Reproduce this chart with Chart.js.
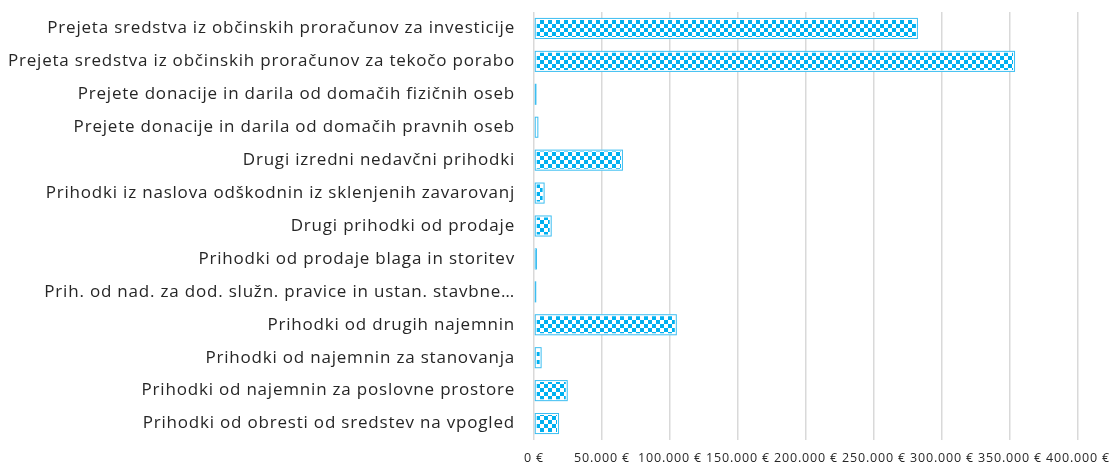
<!DOCTYPE html>
<html>
<head>
<meta charset="utf-8">
<script src="https://cdn.jsdelivr.net/npm/chart.js@4"></script>
<style>
html,body{margin:0;padding:0;background:#fff;}
#wrap{width:1113px;height:465px;position:relative;}
</style>
</head>
<body>
<div id="wrap"><canvas id="c" width="1113" height="465"></canvas></div>
<script>
const categories = [
  "Prejeta sredstva iz občinskih proračunov za investicije",
  "Prejeta sredstva iz občinskih proračunov za tekočo porabo",
  "Prejete donacije in darila od domačih fizičnih oseb",
  "Prejete donacije in darila od domačih pravnih oseb",
  "Drugi izredni nedavčni prihodki",
  "Prihodki iz naslova odškodnin iz sklenjenih zavarovanj",
  "Drugi prihodki od prodaje",
  "Prihodki od prodaje blaga in storitev",
  "Prih. od nad. za dod. služn. pravice in ustan. stavbne…",
  "Prihodki od drugih najemnin",
  "Prihodki od najemnin za stanovanja",
  "Prihodki od najemnin za poslovne prostore",
  "Prihodki od obresti od sredstev na vpogled"
];
const values = [282300, 353700, 1800, 3200, 65400, 7800, 13000, 2200, 1400, 105000, 5600, 24800, 18400];
const axisMin = 0;
const axisMax = 400000;
const axisStep = 50000;

function makePattern(){
  const p = document.createElement('canvas');
  p.width = 8; p.height = 8;
  const g = p.getContext('2d');
  g.fillStyle = '#ffffff'; g.fillRect(0,0,8,8);
  g.fillStyle = '#00B0F0';
  g.fillRect(0,0,4,4); g.fillRect(4,4,4,4);
  return g.createPattern(p,'repeat');
}

const fmt = v => (v===0 ? '0' : v.toString().replace(/\B(?=(\d{3})+(?!\d))/g,'.')) + ' €';

const spacingPlugin = {
  id: 'spacing',
  beforeDraw(chart){ chart.ctx.letterSpacing = '0.8px'; }
};

const outlinePlugin = {
  id: 'outline',
  afterDatasetsDraw(chart){
    const ctx = chart.ctx;
    const meta = chart.getDatasetMeta(0);
    ctx.save();
    ctx.strokeStyle = '#3CBEF1';
    ctx.lineWidth = 1;
    meta.data.forEach(bar => {
      const p = bar.getProps(['x','y','base','height'], true);
      const left = Math.min(p.base, p.x), right = Math.max(p.base, p.x);
      const top = p.y - p.height/2;
      ctx.strokeRect(left + 0.5, top + 0.5, Math.max(right - left - 1, 0.5), p.height - 1);
    });
    ctx.restore();
  }
};

new Chart(document.getElementById('c'), {
  type: 'bar',
  data: {
    labels: categories,
    datasets: [{
      data: values,
      backgroundColor: makePattern(),
      borderColor: '#ffffff',
      borderWidth: 2,
      borderSkipped: false,
      barPercentage: 0.8,
      categoryPercentage: 0.8
    }]
  },
  plugins: [spacingPlugin, outlinePlugin],
  options: {
    indexAxis: 'y',
    responsive: false,
    animation: false,
    layout: { padding: { top: 12, right: 35, bottom: 0, left: 0 } },
    plugins: { legend: { display: false }, tooltip: { enabled: false } },
    scales: {
      x: {
        min: axisMin, max: axisMax,
        grid: { color: '#d9d9d9', lineWidth: 1.5, drawTicks: false },
        border: { display: false },
        ticks: {
          stepSize: axisStep, padding: 11, maxRotation: 0, autoSkip: false,
          color: '#262626', font: { family: 'Open Sans', size: 12.5 },
          callback: v => fmt(v)
        },
        afterFit: s => { s.height = 25; s.paddingLeft = 0; s.paddingRight = 0; }
      },
      y: {
        grid: { display: false, drawTicks: false },
        border: { display: false },
        ticks: {
          padding: 19, autoSkip: false,
          color: '#262626', font: { family: 'Open Sans', size: 17 }
        },
        afterFit: s => { s.width = 534; s.paddingTop = 0; s.paddingBottom = 0; }
      }
    }
  }
});
</script>
</body>
</html>
